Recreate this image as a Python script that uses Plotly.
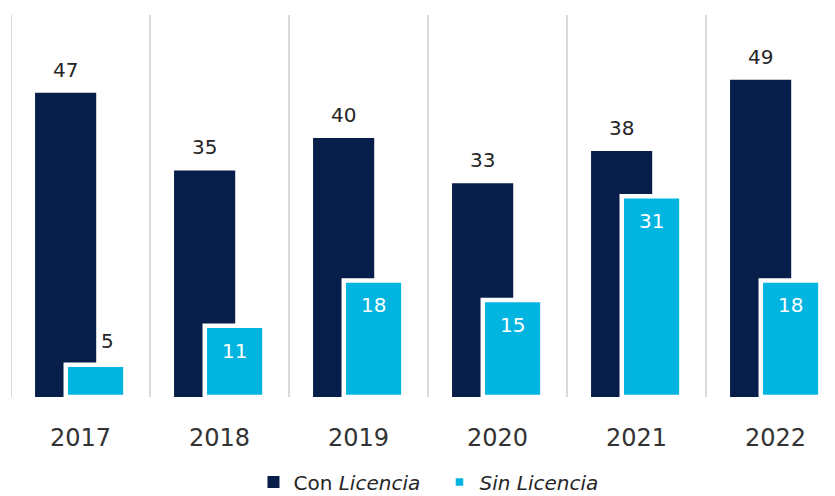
import plotly.graph_objects as go

years = ["2017", "2018", "2019", "2020", "2021", "2022"]
con_licencia = [47, 35, 40, 33, 38, 49]
sin_licencia = [5, 11, 18, 15, 31, 18]

NAVY = "#081e4a"
CYAN = "#02b4e0"
FONT = "DejaVu Sans"

idx = list(range(len(years)))

# bar geometry (category units)
con_w, con_off = 0.44, -0.327
sin_w, sin_off = 0.429, -0.106

fig = go.Figure()
fig.add_trace(go.Bar(
    x=idx, y=con_licencia, name="Con <i>Licencia</i>",
    width=con_w, offset=con_off,
    marker=dict(color=NAVY, line=dict(width=0)),
    hoverinfo="skip",
))
fig.add_trace(go.Bar(
    x=idx, y=sin_licencia, name="<i>Sin Licencia</i>",
    width=sin_w, offset=sin_off,
    marker=dict(color=CYAN, line=dict(color="white", width=4.5)),
    hoverinfo="skip",
))

annotations = []
for i, v in enumerate(con_licencia):
    annotations.append(dict(
        x=i + con_off + con_w / 2, y=v, xref="x", yref="y",
        text=str(v), showarrow=False, yshift=23, yanchor="middle",
        font=dict(family=FONT, size=20, color="#262626"),
    ))
for i, v in enumerate(sin_licencia):
    cx = i + sin_off + sin_w / 2
    if v < 8:
        annotations.append(dict(
            x=cx, y=v, xref="x", yref="y", text=str(v), showarrow=False,
            yshift=24, xshift=12, yanchor="middle",
            font=dict(family=FONT, size=20, color="#262626"),
        ))
    else:
        annotations.append(dict(
            x=cx, y=v, xref="x", yref="y", text=str(v), showarrow=False,
            yshift=-25, yanchor="middle",
            font=dict(family=FONT, size=20, color="white"),
        ))

shapes = []
for k in range(len(years) + 1):
    shapes.append(dict(
        type="line", xref="x", yref="paper", x0=k - 0.5, x1=k - 0.5, y0=0, y1=1,
        line=dict(color="#d9d9d9", width=2), layer="below",
    ))

plot_w = 835 - 11
cat_px = 139.0

fig.update_layout(
    width=835, height=496,
    margin=dict(l=11, r=0, t=15, b=99),
    paper_bgcolor="white", plot_bgcolor="white",
    barmode="overlay",
    showlegend=True,
    legend=dict(
        orientation="h", x=0.52, xanchor="center",
        yref="container", y=(496 - 482) / 496, yanchor="middle",
        font=dict(family=FONT, size=20, color="#262626"),
        traceorder="normal", entrywidth=141,
    ),
    xaxis=dict(
        range=[-0.5, -0.5 + plot_w / cat_px],
        tickvals=idx, ticktext=years, showgrid=False, zeroline=False,
        showline=False, ticks="", ticklabelstandoff=24, automargin=False,
        tickfont=dict(family=FONT, size=24, color="#333333"),
    ),
    yaxis=dict(range=[0, 59], visible=False, showgrid=False, automargin=False),
    annotations=annotations,
    shapes=shapes,
)

fig.write_html("out.html", config={"displayModeBar": False},
               post_script="document.body.style.margin='0';")
